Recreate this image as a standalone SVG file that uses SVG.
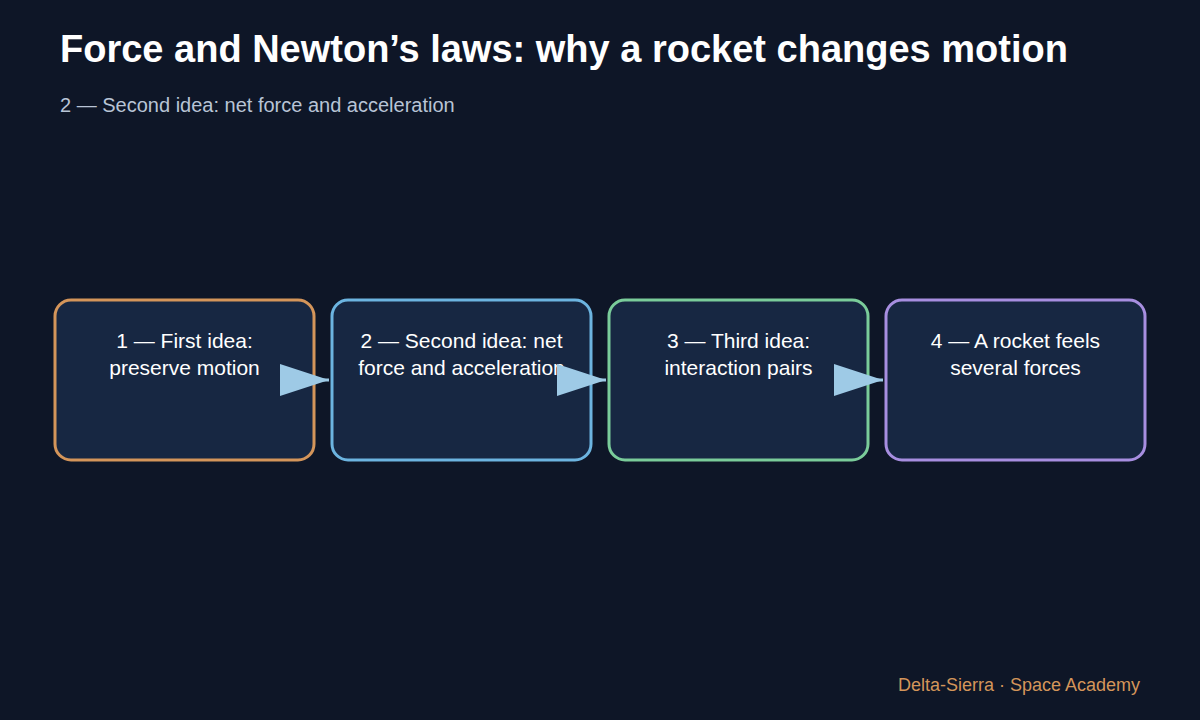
<svg xmlns="http://www.w3.org/2000/svg" width="1200" height="720" viewBox="0 0 1200 720">
<style>
.t{font-family:"Liberation Sans",Arial,sans-serif}
.node rect{fill:#172742;stroke-width:3}
.lbl{font-family:"Liberation Sans",Arial,sans-serif;font-size:21px;fill:#ffffff;text-anchor:middle}
</style>
<defs>
<marker id="ah" markerUnits="userSpaceOnUse" markerWidth="50" markerHeight="34" refX="49" refY="17" orient="auto">
<polygon points="0,1 49,17 0,33" fill="#9ecae6"/>
</marker>
</defs>
<rect width="1200" height="720" fill="#0e1627"/>
<text class="t" x="60" y="62" font-size="38" font-weight="bold" fill="#ffffff">Force and Newton’s laws: why a rocket changes motion</text>
<text class="t" x="60" y="112" font-size="20" fill="#b8c4d6">2 — Second idea: net force and acceleration</text>
<g id="n1" class="node"><rect x="55" y="300" width="259" height="160" rx="16" stroke="#d4955a"/>
<text class="lbl" x="184.5" y="348">1 — First idea:</text><text class="lbl" x="184.5" y="375">preserve motion</text></g>
<g id="n2" class="node"><rect x="332" y="300" width="259" height="160" rx="16" stroke="#6cb4e0"/>
<text class="lbl" x="461.5" y="348">2 — Second idea: net</text><text class="lbl" x="461.5" y="375">force and acceleration</text></g>
<g id="n3" class="node"><rect x="609" y="300" width="259" height="160" rx="16" stroke="#7acc9a"/>
<text class="lbl" x="738.5" y="348">3 — Third idea:</text><text class="lbl" x="738.5" y="375">interaction pairs</text></g>
<g id="n4" class="node"><rect x="886" y="300" width="259" height="160" rx="16" stroke="#a78ee0"/>
<text class="lbl" x="1015.5" y="348">4 — A rocket feels</text><text class="lbl" x="1015.5" y="375">several forces</text></g>
<g id="connectors" stroke="#9ecae6" stroke-width="3">
<path d="M280 380H329" marker-end="url(#ah)"/>
<path d="M557 380H606" marker-end="url(#ah)"/>
<path d="M834 380H883" marker-end="url(#ah)"/>
</g>
<text class="t" x="1140" y="691" font-size="18" fill="#d4955a" text-anchor="end">Delta-Sierra · Space Academy</text>
</svg>
